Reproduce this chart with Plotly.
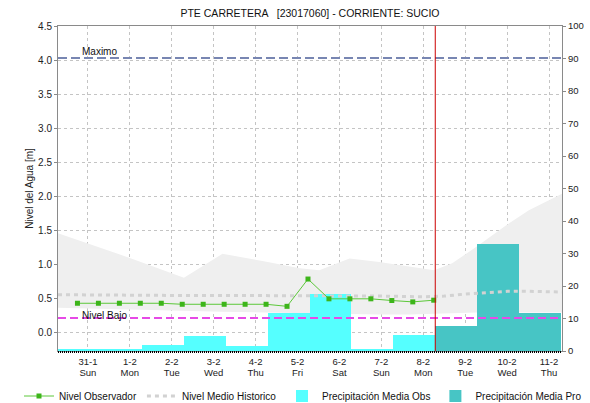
import plotly.graph_objects as go

# ---------------- data ----------------
DAY_LABELS = ["31-1", "1-2", "2-2", "3-2", "4-2", "5-2", "6-2", "7-2", "8-2", "9-2", "10-2", "11-2"]
WEEKDAYS = ["Sun", "Mon", "Tue", "Wed", "Thu", "Fri", "Sat", "Sun", "Mon", "Tue", "Wed", "Thu"]

# observed water level (every 12 h, starting day -0.25)
OBS_START = -0.25
OBS_STEP = 0.5
OBS_LEVEL = [0.435, 0.435, 0.435, 0.435, 0.435, 0.42, 0.42, 0.42, 0.42, 0.42,
             0.39, 0.79, 0.50, 0.50, 0.50, 0.475, 0.455, 0.48]

# historical mean level
HIST_X = [-0.714, 1, 2, 3, 4, 5, 6, 7, 8, 8.5, 9, 9.5, 10, 10.5, 11.31]
HIST_LEVEL = [0.56, 0.55, 0.55, 0.55, 0.55, 0.55, 0.55, 0.54, 0.53, 0.54, 0.57, 0.59, 0.61, 0.61, 0.60]

# historical band (min / max)
BAND_X = [-0.714, 1.0, 2.29, 3.21, 4.29, 5.05, 5.52, 6.24, 6.95, 7.67, 8.26, 8.69, 9.26, 9.98, 10.52, 11.31]
BAND_HI = [1.46, 1.10, 0.81, 1.16, 1.04, 0.95, 0.92, 1.09, 1.04, 0.97, 0.92, 1.02, 1.26, 1.58, 1.80, 2.04]
BAND_LO = [0.37, 0.34, 0.32, 0.31, 0.30, 0.29, 0.28, 0.27, 0.27, 0.27, 0.28, 0.29, 0.30, 0.30, 0.30, 0.30]

# daily precipitation (mm)
PRECIP_OBS = [0.7, 0.7, 1.8, 4.6, 1.5, 11.7, 17.6, 0.6, 4.9]
PRECIP_PRO = [7.7, 33.0, 11.8]
BAR_OFFSET = -0.214  # bars span 07:00 -> 07:00

MAXIMO = 4.03
NIVEL_BAJO = 0.22
NOW_X = 8.286

X_RANGE = [-0.714, 11.31]
Y_RANGE = [-0.265, 4.5]
Y2_RANGE = [0, 100]

FONT = "Liberation Sans, Arial, sans-serif"

fig = go.Figure()

# band (primary level axis, drawn below bars)
fig.add_trace(go.Scatter(x=BAND_X, y=BAND_LO, mode="lines", line=dict(width=0),
                         showlegend=False, hoverinfo="skip", yaxis="y"))
fig.add_trace(go.Scatter(x=BAND_X, y=BAND_HI, mode="lines", line=dict(width=0),
                         fill="tonexty", fillcolor="#EFEFEF",
                         showlegend=False, hoverinfo="skip", yaxis="y"))

# precipitation bars on right axis
n_obs = len(PRECIP_OBS)
fig.add_trace(go.Bar(x=[i + BAR_OFFSET for i in range(n_obs)], y=PRECIP_OBS, width=1,
                     marker=dict(color="#55FFFF", line=dict(width=0)),
                     name="Precipitación Media Obs", yaxis="y2", legend="legend2", legendrank=1))
fig.add_trace(go.Bar(x=[n_obs + i + BAR_OFFSET for i in range(len(PRECIP_PRO))], y=PRECIP_PRO, width=1,
                     marker=dict(color="#47C5C5", line=dict(width=0)),
                     name="Precipitación Media Pro", yaxis="y2", legend="legend2", legendrank=2))

# lines on top (third, invisible axis with level scale)
fig.add_trace(go.Scatter(x=X_RANGE, y=[MAXIMO, MAXIMO], mode="lines",
                         line=dict(color="#7886B2", width=2, dash="9px,4px"),
                         showlegend=False, hoverinfo="skip", yaxis="y3"))
fig.add_trace(go.Scatter(x=X_RANGE, y=[NIVEL_BAJO, NIVEL_BAJO], mode="lines",
                         line=dict(color="#E64AE6", width=2, dash="8px,4px"),
                         showlegend=False, hoverinfo="skip", yaxis="y3"))
fig.add_trace(go.Scatter(x=HIST_X, y=HIST_LEVEL, mode="lines",
                         line=dict(color="#D2D2D2", width=3, dash="4px,4px"),
                         name="Nivel Medio Historico", yaxis="y3", legend="legend", legendrank=2))
obs_x = [OBS_START + OBS_STEP * i for i in range(len(OBS_LEVEL))]
fig.add_trace(go.Scatter(x=obs_x, y=OBS_LEVEL, mode="lines+markers",
                         line=dict(color="#5CC83A", width=1),
                         marker=dict(symbol="square", size=5, color="#3DB51A"),
                         name="Nivel Observador", yaxis="y3", legend="legend", legendrank=1))
# empty trace so that the weekday axis (x2) is rendered
fig.add_trace(go.Scatter(x=[], y=[], xaxis="x2", yaxis="y3", showlegend=False, hoverinfo="skip"))

tick_idx = list(range(len(DAY_LABELS)))
LEG_SPLIT = 282 / 590
LEG_Y = 1 - 396 / 403
leg_common = dict(orientation="h", xref="container", yref="container", y=LEG_Y,
                  yanchor="middle", font=dict(family=FONT, size=10, color="#111111"),
                  itemwidth=30, traceorder="normal", bgcolor="rgba(0,0,0,0)")

fig.update_layout(
    width=590, height=403,
    margin=dict(l=58, r=28, t=26, b=52, autoexpand=False),
    paper_bgcolor="white", plot_bgcolor="white",
    font=dict(family=FONT, size=10, color="#222222"),
    title=dict(text="PTE CARRETERA   [23017060] - CORRIENTE: SUCIO",
               x=310 / 590, xanchor="center", y=1 - 13 / 403, yanchor="middle",
               font=dict(family=FONT, size=10.5, color="#111111")),
    barmode="overlay", bargap=0,
    showlegend=True,
    legend=dict(x=LEG_SPLIT, xanchor="right", **leg_common),
    legend2=dict(x=LEG_SPLIT, xanchor="left", **leg_common),
    xaxis=dict(range=X_RANGE, tickmode="array", tickvals=tick_idx,
               ticktext=DAY_LABELS, showgrid=True, gridcolor="#C4C4C4", griddash="dot",
               gridwidth=1, zeroline=False, showline=True, mirror=True,
               linecolor="#8A8A8A", linewidth=1, ticks="", tickfont=dict(size=9.5),
               ticklabelstandoff=2, automargin=False),
    xaxis2=dict(range=X_RANGE, overlaying="x", anchor="y", side="bottom",
                tickmode="array", tickvals=tick_idx, ticktext=WEEKDAYS,
                showgrid=False, zeroline=False, showline=False, ticks="",
                tickfont=dict(size=9.5), ticklabelstandoff=14, automargin=False),
    yaxis=dict(range=Y_RANGE, tickmode="linear", tick0=0, dtick=0.5, tickformat=".1f",
               showgrid=True, gridcolor="#C4C4C4", griddash="dot", zeroline=False,
               showline=True, linecolor="#8A8A8A", ticks="outside", ticklen=3,
               tickcolor="#8A8A8A", automargin=False, tickfont=dict(size=10),
               title=dict(text="Nivel del Agua [m]", standoff=2,
                          font=dict(family=FONT, size=10, color="#222222"))),
    yaxis2=dict(range=Y2_RANGE, overlaying="y", side="right", tickmode="linear", tick0=0,
                dtick=10, showgrid=False, zeroline=False, showline=True,
                linecolor="#8A8A8A", ticks="outside", ticklen=3, tickcolor="#8A8A8A",
                automargin=False, tickfont=dict(size=9.5)),
    yaxis3=dict(range=Y_RANGE, overlaying="y", visible=False, showgrid=False),
    shapes=[
        dict(type="line", xref="x", yref="paper", x0=NOW_X, x1=NOW_X, y0=0, y1=1,
             line=dict(color="#CC0000", width=1), layer="above"),
        dict(type="line", xref="paper", yref="paper", x0=0, x1=1,
             ysizemode="pixel", yanchor=0, y0=-1, y1=-1,
             line=dict(color="#000000", width=2, dash="1px,1px"), layer="above"),
    ],
    annotations=[
        dict(text="Maximo", x=-0.2, y=MAXIMO, xref="x", yref="y", xanchor="left",
             yanchor="bottom", showarrow=False, yshift=-1,
             font=dict(family=FONT, size=10, color="#111111")),
        dict(text="Nivel Bajo", x=-0.2, y=NIVEL_BAJO, xref="x", yref="y", xanchor="left",
             yanchor="bottom", showarrow=False, yshift=-5,
             font=dict(family=FONT, size=10, color="#111111")),
    ],
)

fig.write_html(
    "out.html",
    config={"displayModeBar": False},
    post_script="document.body.style.margin='0';document.body.style.padding='0';"
                "document.documentElement.style.overflow='hidden';",
)
